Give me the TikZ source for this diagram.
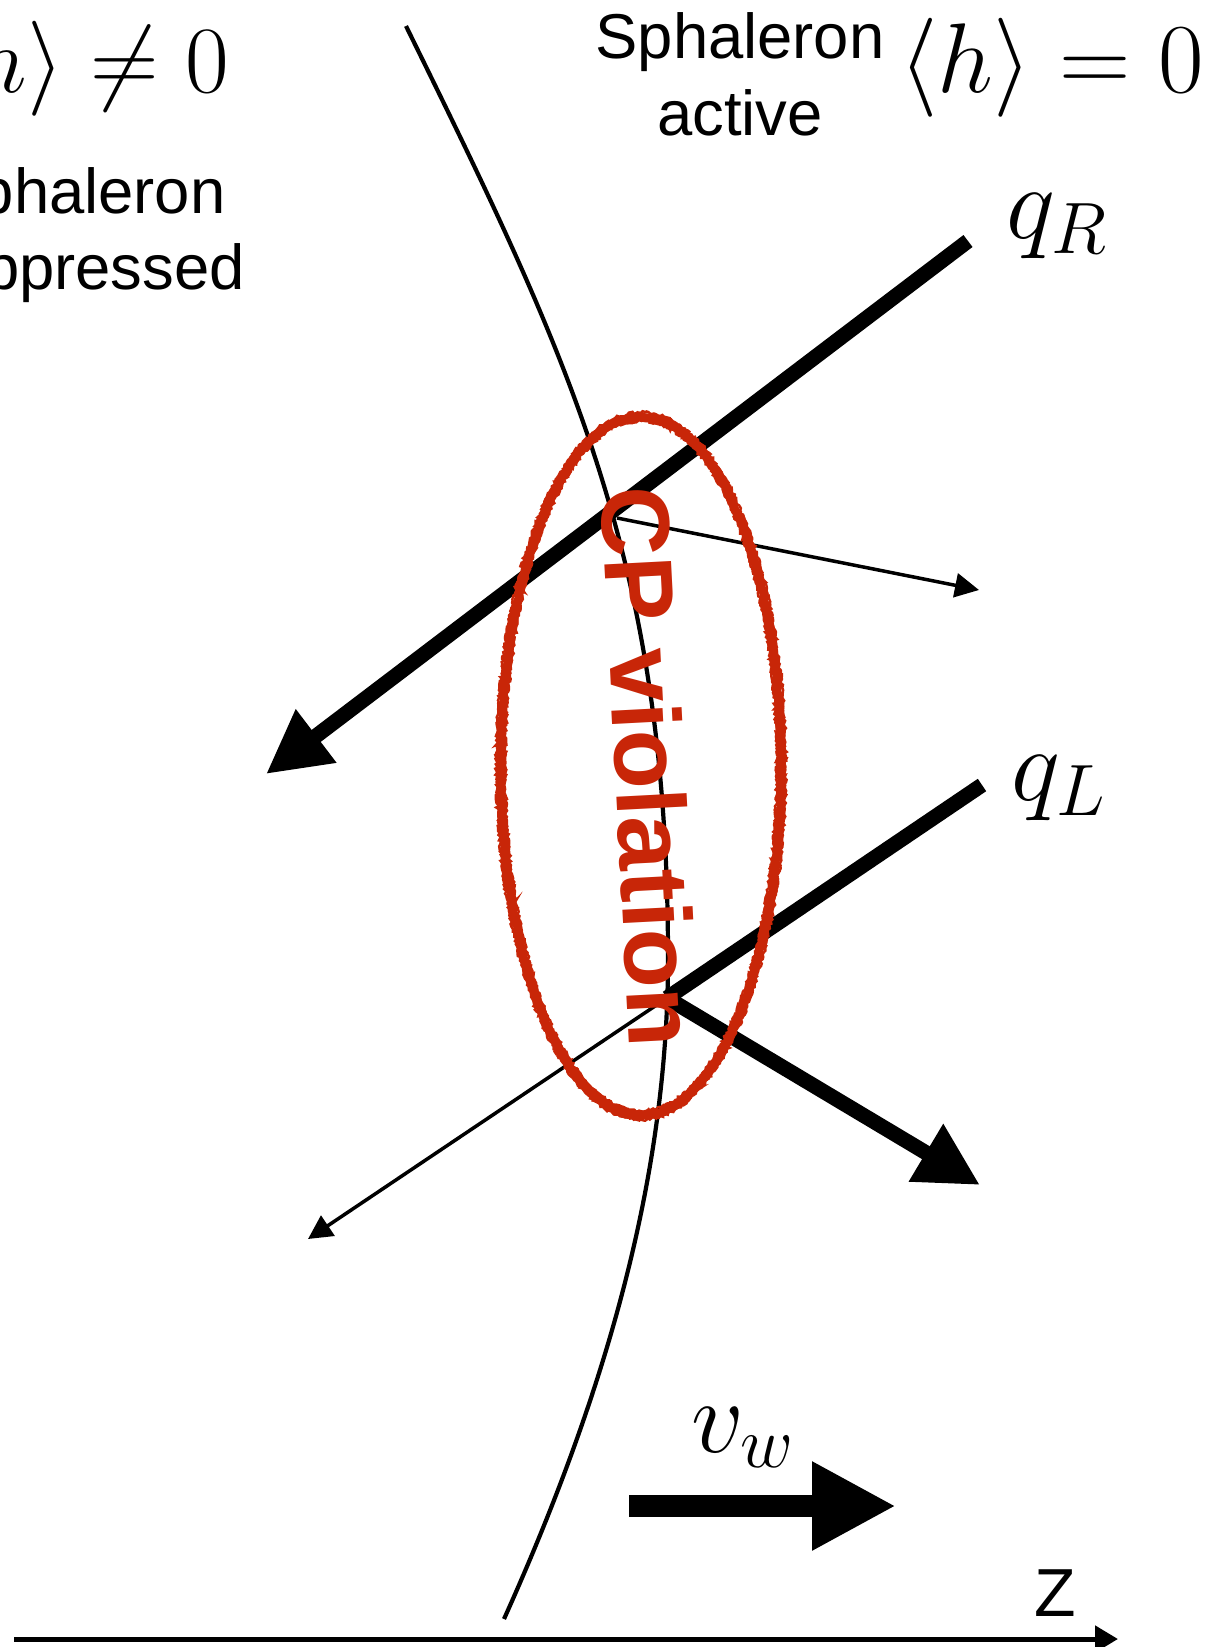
\RequirePackage{fix-cm}
\documentclass[tikz,border=0pt]{standalone}
\usepackage{fontspec}
\setsansfont{Liberation Sans}
\newfontfamily\cpfont{Liberation Sans}
\usetikzlibrary{arrows.meta,decorations.pathmorphing}
\definecolor{cpred}{RGB}{200,38,8}
\begin{document}
\begin{tikzpicture}[x=1pt,y=-1pt,
  wall/.style={line width=4.2},
  thickarr/.style={line width=15, -{Triangle[length=63pt,width=63pt]}},
  thickline/.style={line width=15},
  thinarr/.style={line width=3.5, -{Triangle[length=24pt,width=24pt]}},
  sanslab/.style={inner sep=0, font=\sffamily\fontsize{63.4}{76}\selectfont},
  mathlab/.style={inner sep=0, font=\fontsize{95}{110}\selectfont},
  bigmath/.style={inner sep=0, font=\fontsize{104}{120}\selectfont},
  rough/.style={decorate, decoration={random steps, segment length=3, amplitude=1.2}},
  crayon/.style={cpred, line width=2.4, decorate, decoration={random steps, segment length=2, amplitude=1.4}}
]
\useasboundingbox (0,0) rectangle (1217,1647);
\pgfmathsetseed{7}

% coordinates
\coordinate (qRs) at (968,241);
\coordinate (qRt) at (266,774);
\coordinate (wA)  at (617,518);
\coordinate (wAt) at (979,590);
\coordinate (qLs) at (982,785);
\coordinate (J)   at (667,998);
\coordinate (qLt) at (308,1239);
\coordinate (bigT) at (980,1185);
\coordinate (vs) at (629,1506);
\coordinate (vt) at (896,1506);
\coordinate (zs) at (14,1639);
\coordinate (zt) at (1118,1639);
\coordinate (w0) at (406,26);
\coordinate (w1) at (668,958);
\coordinate (w2) at (504,1619);

% bubble wall
\draw[wall] (w0) .. controls (568,356) and (668,558) .. (w1)
               .. controls (668,1158) and (616.5,1369) .. (w2);

% particle lines
\draw[thinarr] (wA) -- (wAt);
\draw[thickarr] (qRs) -- (qRt);
\draw[thickline] (qLs) -- (J);
\draw[thinarr] (J) -- (qLt);
\draw[thickarr] (J) -- (bigT);

% wall velocity and axis
\draw[line width=22, -{Triangle[length=84pt,width=83pt]}] (vs) -- (vt);
\draw[line width=5, -{Triangle[length=23pt,width=26pt]}] (zs) -- (zt);

% CP violation ellipse
\draw[cpred, line width=9, rough] (641,766) ellipse [x radius=140, y radius=349];
\draw[crayon] (641,766) ellipse [x radius=144.5, y radius=353.5];
\draw[crayon] (641,766) ellipse [x radius=136, y radius=345];
\node[inner sep=0, text=cpred, rotate=-87, font=\cpfont\bfseries\fontsize{97}{110}\selectfont] (cp) at (650,767) {CP violation};

% labels
\node[mathlab, anchor=base east] (hleft) at (229,92) {$\langle h\rangle \neq 0$};
\node[mathlab, anchor=base west, font=\fontsize{99}{110}\selectfont] (hright) at (899,92) {$\langle h\rangle = 0$};
\node[sanslab, anchor=base] (sl1) at (81,213) {Sphaleron};
\node[sanslab, anchor=base] (sl2) at (81,289) {suppressed};
\node[sanslab, anchor=base] (sr1) at (740,58) {Sphaleron};
\node[sanslab, anchor=base] (sr2) at (740,135) {active};
\node[bigmath, anchor=base west] (qR) at (1006,238) {$q_R$};
\node[bigmath, anchor=base west] (qL) at (1011,800) {$q_L$};
\node[bigmath, anchor=base west] (vw) at (691,1452) {$v_w$};
\node[inner sep=0, font=\sffamily\fontsize{68}{80}\selectfont] (z) at (1055,1593) {Z};
\end{tikzpicture}
\end{document}
